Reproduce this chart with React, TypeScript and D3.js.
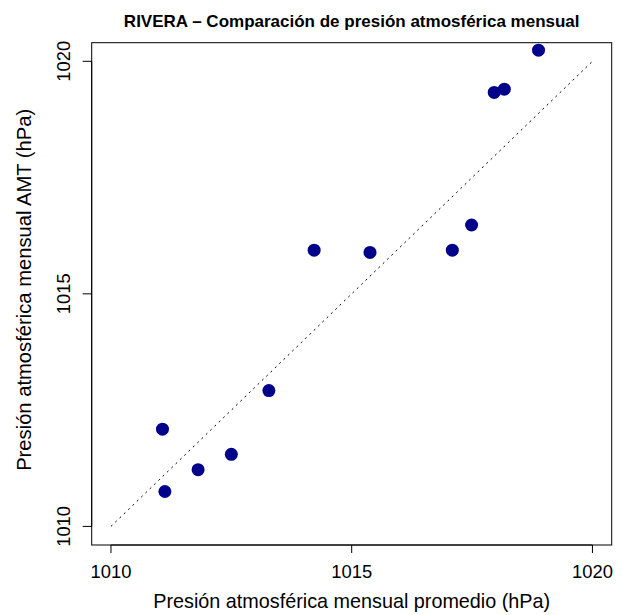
import React from "react";
import * as d3 from "d3";

const promedio = [1018.88, 1017.96, 1018.17, 1017.49, 1017.09, 1014.22, 1015.38, 1013.28, 1011.07, 1012.5, 1011.81, 1011.12];
const amt = [1020.24, 1019.33, 1019.4, 1016.48, 1015.94, 1015.94, 1015.89, 1012.92, 1012.09, 1011.55, 1011.22, 1010.75];
const xTicks = [1010, 1015, 1020];
const yTicks = [1010, 1015, 1020];
const title = "RIVERA – Comparación de presión atmosférica mensual";
const xLabel = "Presión atmosférica mensual promedio (hPa)";
const yLabel = "Presión atmosférica mensual AMT (hPa)";

const W = 622, H = 615;
const L = 91.7, R = 611.7, T = 42.7, B = 545;
const FONT = "'Liberation Sans', Arial, Helvetica, sans-serif";

export default function App() {
  const x = d3.scaleLinear().domain([1009.6, 1020.4]).range([L, R]);
  const y = d3.scaleLinear().domain([1009.6, 1020.4]).range([B, T]);
  const cx = (L + R) / 2, cy = (T + B) / 2;
  return (
    <svg width={W} height={H} style={{ position: "absolute", left: 0, top: 0, background: "#fff" }} fontFamily={FONT}>
      <rect x={0} y={0} width={W} height={H} fill="#fff" />
      <text x={cx} y={26.5} textAnchor="middle" fontWeight="bold" fontSize={17} fill="#000">{title}</text>
      <line x1={x(1010)} y1={y(1010)} x2={x(1020)} y2={y(1020)} stroke="#000" strokeWidth={1} strokeDasharray="2,4" />
      {promedio.map((v, i) => (
        <circle key={i} cx={x(v)} cy={y(amt[i])} r={6.5} fill="#00008B" />
      ))}
      <rect x={L} y={T} width={R - L} height={B - T} fill="none" stroke="#000" strokeWidth={1} />
      <line x1={x(xTicks[0])} x2={x(xTicks[xTicks.length - 1])} y1={B} y2={B} stroke="#000" />
      {xTicks.map((t) => (
        <g key={t}>
          <line x1={x(t)} x2={x(t)} y1={B} y2={B + 8} stroke="#000" />
          <text x={x(t)} y={577.5} textAnchor="middle" fontSize={18.4} fill="#000">{t}</text>
        </g>
      ))}
      <line x1={L} x2={L} y1={y(yTicks[0])} y2={y(yTicks[yTicks.length - 1])} stroke="#000" />
      {yTicks.map((t) => (
        <g key={t}>
          <line x1={L - 9} x2={L} y1={y(t)} y2={y(t)} stroke="#000" />
          <text transform={`translate(70,${y(t)}) rotate(-90)`} textAnchor="middle" fontSize={18.4} fill="#000">{t}</text>
        </g>
      ))}
      <text x={cx} y={607.5} textAnchor="middle" fontSize={19.8} fill="#000">{xLabel}</text>
      <text transform={`translate(30.7,${cy - 4}) rotate(-90)`} textAnchor="middle" fontSize={20.2} fill="#000">{yLabel}</text>
    </svg>
  );
}
